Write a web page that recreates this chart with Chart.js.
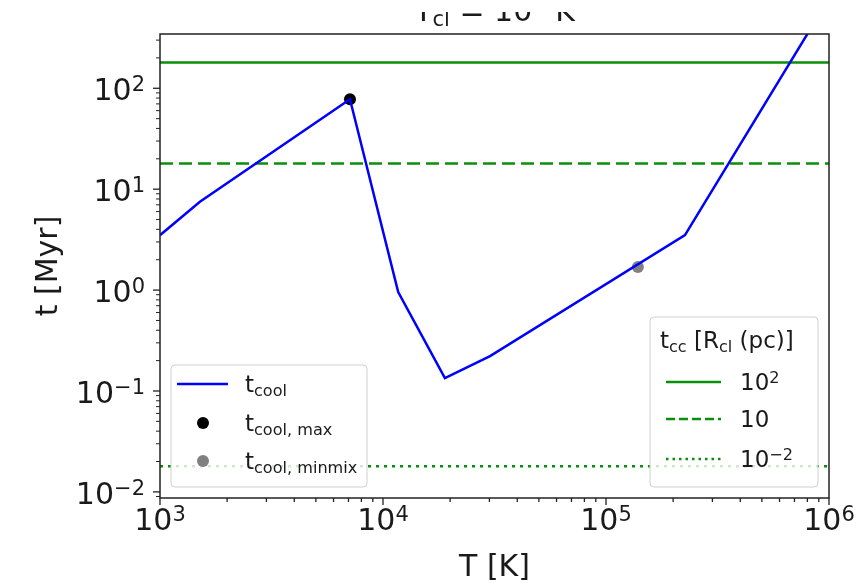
<!DOCTYPE html>
<html>
<head>
<meta charset="utf-8">
<script src="https://cdn.jsdelivr.net/npm/chart.js@4.4.1/dist/chart.umd.min.js"></script>
<style>
  html, body { margin: 0; padding: 0; background: #fff; overflow: hidden; }
</style>
</head>
<body>
<canvas id="chart" width="862" height="583"></canvas>
<script>
// cooling time curve (T in K, t in Myr)
const tempK = [1000, 1510, 7110, 11700, 18950, 30200, 226000, 850000];
const tCool = [3.5, 7.5, 77.8, 0.955, 0.134, 0.222, 3.5, 430];

// marked points
const maxT = [7110];
const maxt = [77.8];
const minmixT = [139000];
const minmixt = [1.69];

// cloud crushing times for R_cl = 10^2, 10, 10^-2 pc
const tcc = [180, 18, 0.018];
const tccBase = ['10', '10', '10'];
const tccExp = ['2', '', '\u22122'];

// axes
const xRange = [1e3, 1e6];
const yRange = [0.0087, 345];
const xMajor = [1e3, 1e4, 1e5, 1e6];
const xExp = ['3', '4', '5', '6'];
const yMajor = [1e-2, 1e-1, 1, 10, 100];
const yExp = ['\u22122', '\u22121', '0', '1', '2'];

const FONT = "'DejaVu Sans', sans-serif";
const BLUE = '#0000ff';
const GREEN = '#0a8f0a';

// draws text made of [string, kind] parts; kind 0 normal, 1 subscript, 2 superscript
function richWidth(ctx, parts, size) {
    let w = 0;
    parts.forEach(([s, k]) => {
        ctx.font = (k ? size * 0.7 : size) + 'px ' + FONT;
        w += ctx.measureText(s).width;
    });
    return w;
}
function drawRich(ctx, parts, x, y, size, align) {
    const w = richWidth(ctx, parts, size);
    let cx = align === 'center' ? x - w / 2 : align === 'right' ? x - w : x;
    ctx.textAlign = 'left';
    ctx.textBaseline = 'alphabetic';
    parts.forEach(([s, k]) => {
        ctx.font = (k ? size * 0.7 : size) + 'px ' + FONT;
        let dy = k === 1 ? size * 0.17 : k === 2 ? -size * 0.3 : 0;
        ctx.fillText(s, cx, y + dy);
        cx += ctx.measureText(s).width;
    });
}

function minorTicks(lo, hi) {
    const out = [];
    for (let e = Math.floor(Math.log10(lo)); e <= Math.ceil(Math.log10(hi)); e++) {
        for (let m = 2; m <= 9; m++) {
            const v = m * Math.pow(10, e);
            if (v >= lo && v <= hi) out.push(v);
        }
    }
    return out;
}

function legendBox(ctx, x0, y0, x1, y1) {
    ctx.beginPath();
    ctx.roundRect(x0, y0, x1 - x0, y1 - y0, 4);
    ctx.fillStyle = 'rgba(255,255,255,0.8)';
    ctx.fill();
    ctx.strokeStyle = '#d0d0d0';
    ctx.lineWidth = 1;
    ctx.stroke();
}

const decor = {
    id: 'decor',
    afterDraw(chart) {
        const { ctx, chartArea: a, scales: { x, y } } = chart;
        ctx.save();

        // frame
        ctx.strokeStyle = '#222';
        ctx.lineWidth = 1.5;
        ctx.strokeRect(a.left, a.top, a.right - a.left, a.bottom - a.top);

        // ticks, outward
        ctx.lineWidth = 1.3;
        xMajor.forEach(v => {
            const px = x.getPixelForValue(v);
            ctx.beginPath(); ctx.moveTo(px, a.bottom); ctx.lineTo(px, a.bottom + 7); ctx.stroke();
        });
        minorTicks(xRange[0], xRange[1]).forEach(v => {
            const px = x.getPixelForValue(v);
            ctx.beginPath(); ctx.moveTo(px, a.bottom); ctx.lineTo(px, a.bottom + 4); ctx.stroke();
        });
        yMajor.forEach(v => {
            const py = y.getPixelForValue(v);
            ctx.beginPath(); ctx.moveTo(a.left, py); ctx.lineTo(a.left - 7, py); ctx.stroke();
        });
        ctx.lineWidth = 1;
        minorTicks(yRange[0], yRange[1]).forEach(v => {
            const py = y.getPixelForValue(v);
            ctx.beginPath(); ctx.moveTo(a.left, py); ctx.lineTo(a.left - 4, py); ctx.stroke();
        });

        // tick labels
        ctx.fillStyle = '#1a1a1a';
        xMajor.forEach((v, i) => {
            drawRich(ctx, [['10', 0], [xExp[i], 2]], x.getPixelForValue(v), a.bottom + 32, 30, 'center');
        });
        yMajor.forEach((v, i) => {
            drawRich(ctx, [['10', 0], [yExp[i], 2]], a.left - 15, y.getPixelForValue(v) + 12, 30, 'right');
        });

        // axis labels
        drawRich(ctx, [['T [K]', 0]], (a.left + a.right) / 2, 576, 30, 'center');
        ctx.save();
        ctx.translate(57, (a.top + a.bottom) / 2);
        ctx.rotate(-Math.PI / 2);
        drawRich(ctx, [['t [Myr]', 0]], 0, 0, 30, 'center');
        ctx.restore();

        // title, cut off by the top of the image
        ctx.save();
        ctx.beginPath(); ctx.rect(0, 12, 862, a.top - 13); ctx.clip();
        drawRich(ctx, [['T', 0], ['cl', 1], [' = 10', 0], ['4', 2], [' K', 0]], (a.left + a.right) / 2, 21, 30, 'center');
        ctx.restore();

        // legend: cooling time
        legendBox(ctx, 171, 365, 367, 487);
        ctx.strokeStyle = BLUE; ctx.lineWidth = 2.5;
        ctx.beginPath(); ctx.moveTo(177, 384); ctx.lineTo(228, 384); ctx.stroke();
        ctx.fillStyle = '#000';
        ctx.beginPath(); ctx.arc(203, 423, 6, 0, Math.PI * 2); ctx.fill();
        ctx.fillStyle = '#808080';
        ctx.beginPath(); ctx.arc(203, 461, 6, 0, Math.PI * 2); ctx.fill();
        ctx.fillStyle = '#1a1a1a';
        drawRich(ctx, [['t', 0], ['cool', 1]], 245, 392, 23, 'left');
        drawRich(ctx, [['t', 0], ['cool, max', 1]], 245, 431, 23, 'left');
        drawRich(ctx, [['t', 0], ['cool, minmix', 1]], 245, 469, 23, 'left');

        // legend: cloud crushing time
        legendBox(ctx, 650, 317, 818, 487);
        ctx.fillStyle = '#1a1a1a';
        drawRich(ctx, [['t', 0], ['cc', 1], [' [R', 0], ['cl', 1], [' (pc)]', 0]], 660, 348, 23, 'left');
        const rows = [382, 419, 459];
        const dashes = [[], [9, 4], [2.5, 4]];
        rows.forEach((ry, i) => {
            ctx.strokeStyle = GREEN; ctx.lineWidth = 2.5;
            ctx.setLineDash(dashes[i]);
            ctx.beginPath(); ctx.moveTo(666, ry); ctx.lineTo(721, ry); ctx.stroke();
            ctx.setLineDash([]);
            ctx.fillStyle = '#1a1a1a';
            const parts = [[tccBase[i], 0]];
            if (tccExp[i]) parts.push([tccExp[i], 2]);
            drawRich(ctx, parts, 740, ry + 8, 23, 'left');
        });

        ctx.restore();
    }
};

const hline = (v) => [{ x: xRange[0], y: v }, { x: xRange[1], y: v }];

new Chart(document.getElementById('chart'), {
    type: 'line',
    data: {
        datasets: [
            {
                label: 't_cool',
                data: tempK.map((T, i) => ({ x: T, y: tCool[i] })),
                borderColor: BLUE, borderWidth: 2.5, pointRadius: 0, order: 0,
            },
            {
                label: 'R 10^2',
                data: hline(tcc[0]),
                borderColor: GREEN, borderWidth: 2.5, pointRadius: 0, order: 1,
            },
            {
                label: 'R 10',
                data: hline(tcc[1]),
                borderColor: GREEN, borderWidth: 2.5, borderDash: [13, 6], pointRadius: 0, order: 1,
            },
            {
                label: 'R 10^-2',
                data: hline(tcc[2]),
                borderColor: GREEN, borderWidth: 2.5, borderDash: [3, 5], pointRadius: 0, order: 1,
            },
            {
                label: 't_cool,max',
                data: maxT.map((T, i) => ({ x: T, y: maxt[i] })),
                showLine: false, pointRadius: 6, pointBackgroundColor: '#000', pointBorderWidth: 0, order: 5,
            },
            {
                label: 't_cool,minmix',
                data: minmixT.map((T, i) => ({ x: T, y: minmixt[i] })),
                showLine: false, pointRadius: 6, pointBackgroundColor: '#808080', pointBorderWidth: 0, order: 5,
            },
        ],
    },
    options: {
        responsive: false,
        animation: false,
        devicePixelRatio: 1,
        layout: { padding: { left: 160, right: 33, top: 34, bottom: 85 } },
        scales: {
            x: { type: 'logarithmic', min: xRange[0], max: xRange[1], display: false },
            y: { type: 'logarithmic', min: yRange[0], max: yRange[1], display: false },
        },
        plugins: {
            legend: { display: false },
            tooltip: { enabled: false },
        },
    },
    plugins: [decor],
});
</script>
</body>
</html>
